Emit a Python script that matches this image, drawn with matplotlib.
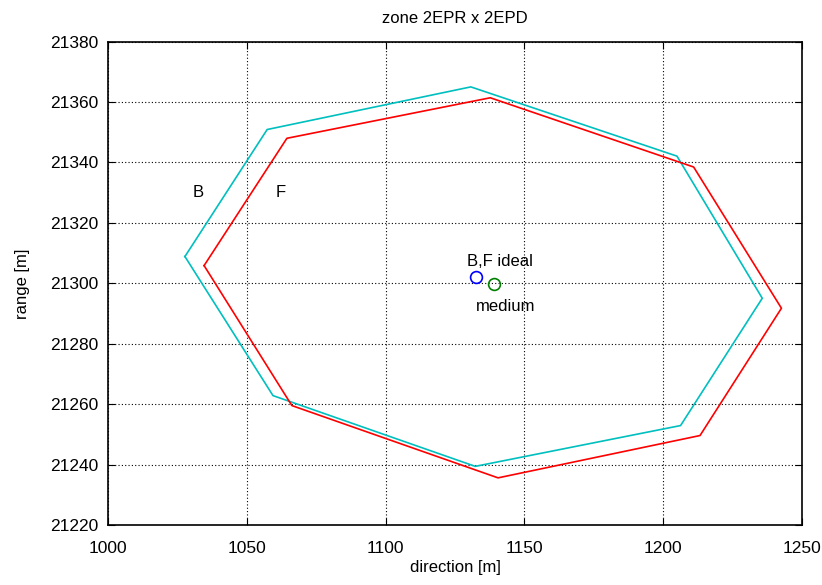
import matplotlib
matplotlib.use('Agg')
import matplotlib.pyplot as plt

plt.rcParams['font.family'] = ['Liberation Sans', 'DejaVu Sans']

# polygon B (cyan), closed
b_dir = [1027.8, 1057.4, 1130.7, 1204.9, 1235.6, 1206.2, 1132.3, 1059.5, 1027.8]
b_rng = [21308.9, 21350.9, 21365.0, 21342.1, 21295.1, 21253.0, 21239.5, 21262.9, 21308.9]

# polygon F (red), closed
f_dir = [1034.7, 1064.5, 1137.7, 1210.9, 1242.5, 1213.2, 1140.5, 1066.3, 1034.7]
f_rng = [21305.9, 21348.0, 21361.4, 21338.5, 21291.8, 21249.7, 21235.7, 21259.6, 21305.9]

ideal = (1132.4, 21302.0)
medium = (1139.1, 21299.9)

fig, ax = plt.subplots(figsize=(8.22, 5.85), dpi=100)
fig.subplots_adjust(left=0.131, right=0.976, top=0.929, bottom=0.102)

ax.plot(b_dir, b_rng, color='#00BFBF', lw=1.2)
ax.plot(f_dir, f_rng, color='#FF0000', lw=1.2)
ax.plot(*ideal, 'o', mfc='none', mec='#0000FF', ms=8.5, mew=1.2)
ax.plot(*medium, 'o', mfc='none', mec='#008000', ms=8.5, mew=1.2)

ax.text(1032.6, 21330, 'B', fontsize=12, ha='center', va='center')
ax.text(1062.4, 21330, 'F', fontsize=12, ha='center', va='center')
ax.text(1129.5, 21307.4, 'B,F ideal', fontsize=12, ha='left', va='center')
ax.text(1132.5, 21292.5, 'medium', fontsize=12, ha='left', va='center')

ax.set_xlim(1000, 1250)
ax.set_ylim(21220, 21380)
ax.set_xticks(range(1000, 1251, 50))
ax.set_yticks(range(21220, 21381, 20))
ax.ticklabel_format(useOffset=False, style='plain')
ax.tick_params(direction='in', top=True, right=True, labelsize=12.5, length=5)
ax.tick_params(axis='x', pad=11)
ax.tick_params(axis='y', pad=7)
ax.grid(True, color='black', linestyle=(0, (1, 2)), lw=0.8)
for s in ax.spines.values():
    s.set_linewidth(1.2)

ax.set_title('zone 2EPR x 2EPD', fontsize=12, pad=13)
ax.set_xlabel('direction [m]', fontsize=12, labelpad=3)
ax.set_ylabel('range [m]', fontsize=12, labelpad=14)

fig.savefig('out.png', dpi=100)
